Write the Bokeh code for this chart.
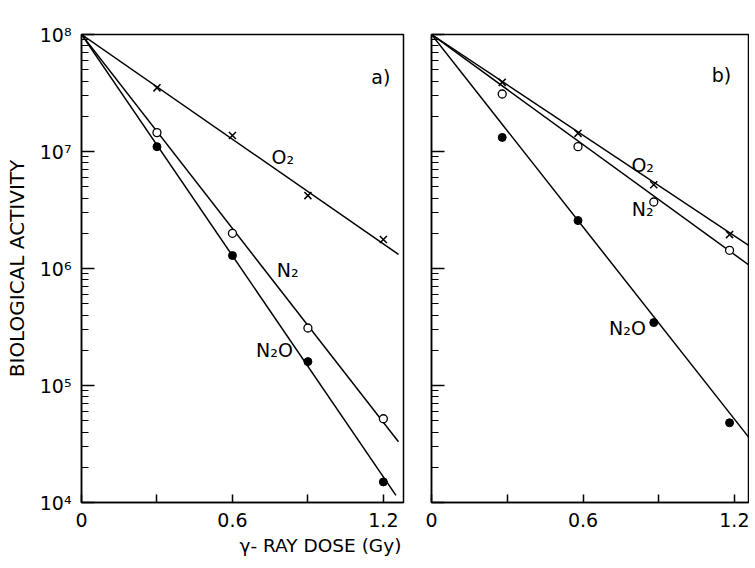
from bokeh.plotting import figure
from bokeh.layouts import row
from bokeh.models import (Range1d, FixedTicker, CustomJSTickFormatter, Label, Title)
from bokeh.embed import file_html
from bokeh.resources import INLINE

# ---------------- data ----------------
dose_a = [0.3, 0.6, 0.9, 1.2]
a_o2 = [3.5e7, 1.37e7, 4.2e6, 1.77e6]
a_n2 = [1.45e7, 2.0e6, 3.1e5, 5.2e4]
a_n2o = [1.1e7, 1.29e6, 1.6e5, 1.5e4]
# fitted lines (start, end)
a_fit_x = [0.0, 1.26]
a_fit_x_n2o = [0.0, 1.25]
a_o2_fit = [1e8, 1.32e6]
a_n2_fit = [1e8, 3.3e4]
a_n2o_fit = [1e8, 1.15e4]

dose_b = [0.28, 0.58, 0.88, 1.18]
b_o2 = [3.9e7, 1.43e7, 5.2e6, 1.95e6]
b_n2 = [3.1e7, 1.1e7, 3.7e6, 1.43e6]
b_n2o = [1.32e7, 2.57e6, 3.45e5, 4.8e4]
b_fit_x = [0.0, 1.27]
b_o2_fit = [1e8, 1.5e6]
b_n2_fit = [1e8, 1.02e6]
b_n2o_fit = [1e8, 3.3e4]

x_ticks = [0.0, 0.3, 0.6, 0.9, 1.2]
x_tick_labels = ["0", "", "0.6", "", "1.2"]
y_ticks = [1e4, 1e5, 1e6, 1e7, 1e8]
y_tick_labels = ["10\u2074", "10\u2075", "10\u2076", "10\u2077", "10\u2078"]
y_minor = [m * 10 ** k for k in range(4, 8) for m in range(2, 10)]

FONT = "DejaVu Sans"


def make_panel(width, x_end, left_border, right_border, show_y_labels):
    p = figure(width=width, height=563, x_range=Range1d(0, x_end),
               y_range=Range1d(1e4, 1e8), y_axis_type="log",
               output_backend="svg", toolbar_location=None,
               min_border_left=left_border, min_border_right=right_border,
               min_border_top=34, min_border_bottom=61)
    p.xgrid.visible = False
    p.ygrid.visible = False
    p.outline_line_color = "black"
    p.outline_line_width = 1.5
    p.background_fill_color = "white"
    p.border_fill_color = "white"

    xa = p.xaxis[0]
    xa.ticker = FixedTicker(ticks=x_ticks)
    xa.formatter = CustomJSTickFormatter(
        args=dict(tv=x_ticks, tl=x_tick_labels),
        code="""
        for (let i = 0; i < tv.length; i++) {
            if (Math.abs(tv[i] - tick) < 1e-6) return tl[i];
        }
        return '';
        """)
    xa.major_tick_in = 8
    xa.major_tick_out = 0
    xa.minor_tick_in = 0
    xa.minor_tick_out = 0
    xa.axis_line_width = 1.5
    xa.major_tick_line_width = 1.5
    xa.major_label_text_font = FONT
    xa.major_label_text_font_size = "19px"
    xa.major_label_text_color = "black"
    xa.major_label_standoff = 10

    ya = p.yaxis[0]
    ya.ticker = FixedTicker(ticks=y_ticks, minor_ticks=y_minor)
    if show_y_labels:
        ya.formatter = CustomJSTickFormatter(
            args=dict(tv=y_ticks, tl=y_tick_labels),
            code="""
            for (let i = 0; i < tv.length; i++) {
                if (Math.abs(Math.log10(tv[i]) - Math.log10(tick)) < 1e-6) return tl[i];
            }
            return '';
            """)
    else:
        ya.formatter = CustomJSTickFormatter(code="return '';")
    ya.major_tick_in = 13
    ya.major_tick_out = 0
    ya.minor_tick_in = 7
    ya.minor_tick_out = 0
    ya.axis_line_width = 1.5
    ya.major_tick_line_width = 1.3
    ya.minor_tick_line_width = 1.2
    ya.major_label_text_font = FONT
    ya.major_label_text_font_size = "19px"
    ya.major_label_text_color = "black"
    ya.major_label_standoff = 10
    return p


def add_series(p, xs, o2, n2, n2o, fx_o2, fy_o2, fx_n2, fy_n2, fx_n2o, fy_n2o):
    lw = 1.5
    p.line(fx_o2, fy_o2, line_color="black", line_width=lw)
    p.line(fx_n2, fy_n2, line_color="black", line_width=lw)
    p.line(fx_n2o, fy_n2o, line_color="black", line_width=lw)
    p.scatter(xs, o2, marker="x", size=10, line_color="black", line_width=1.5)
    p.scatter(xs, n2, marker="circle", size=8, line_color="black",
              fill_color="white", line_width=1.3)
    p.scatter(xs, n2o, marker="circle", size=8, line_color="black",
              fill_color="black", line_width=1.0)


def add_label(p, x, y, text, size="19px"):
    p.add_layout(Label(x=x, y=y, text=text, text_font=FONT,
                       text_font_size=size, text_align="center",
                       text_baseline="middle", text_color="black"))


# ---------------- panel a ----------------
p1 = make_panel(416, 1.28, 81, 13, True)
add_series(p1, dose_a, a_o2, a_n2, a_n2o,
           a_fit_x, a_o2_fit, a_fit_x, a_n2_fit, a_fit_x_n2o, a_n2o_fit)
add_label(p1, 1.19, 4.3e7, "a)")
add_label(p1, 0.80, 9.0e6, "O\u2082")
add_label(p1, 0.82, 9.7e5, "N\u2082")
add_label(p1, 0.767, 2.0e5, "N\u2082O")
p1.yaxis[0].axis_label = "BIOLOGICAL ACTIVITY"
p1.yaxis[0].axis_label_text_font = FONT
p1.yaxis[0].axis_label_text_font_size = "20px"
p1.yaxis[0].axis_label_text_font_style = "normal"
p1.yaxis[0].axis_label_text_color = "black"
p1.yaxis[0].axis_label_standoff = 8
p1.add_layout(Title(text="\u03b3- RAY DOSE (Gy)", align="left", offset=158,
                    standoff=6, text_font=FONT, text_font_size="18.5px",
                    text_font_style="normal", text_color="black"), "below")

# ---------------- panel b ----------------
p2 = make_panel(333, 1.255, 15, 1, False)
add_series(p2, dose_b, b_o2, b_n2, b_n2o,
           b_fit_x, b_o2_fit, b_fit_x, b_n2_fit, b_fit_x, b_n2o_fit)
add_label(p2, 1.148, 4.5e7, "b)")
add_label(p2, 0.836, 7.6e6, "O\u2082")
add_label(p2, 0.836, 3.2e6, "N\u2082")
add_label(p2, 0.776, 3.1e5, "N\u2082O")

layout = row(p1, p2)
open("out.html", "w").write(file_html(layout, INLINE))
